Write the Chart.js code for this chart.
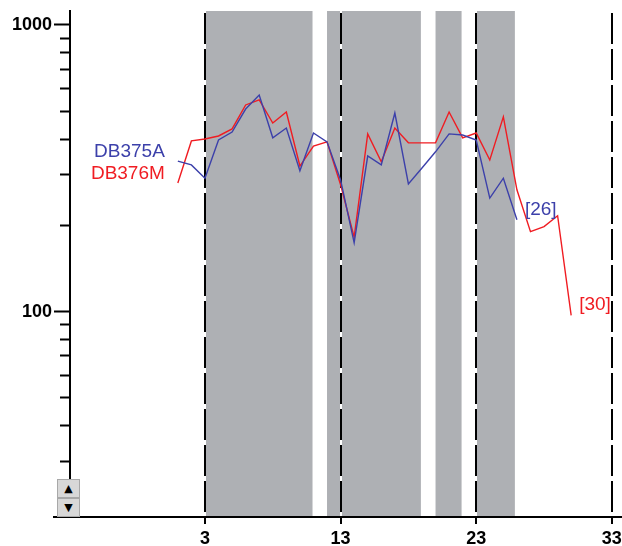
<!DOCTYPE html>
<html>
<head>
<meta charset="utf-8">
<script src="https://cdn.jsdelivr.net/npm/chart.js@4.4.0/dist/chart.umd.min.js"></script>
<style>
html, body { margin: 0; padding: 0; background: #fff; }
#wrap { position: relative; width: 622px; height: 546px; }
.btn {
    position: absolute; left: 57px; width: 23px; height: 19px;
    background: #d8d8d8; border: 1px solid #a8a8a8; box-sizing: border-box;
    font: 11px "DejaVu Sans"; color: #000; text-align: center; line-height: 17px;
}
</style>
</head>
<body>
<div id="wrap">
    <canvas id="grafico" width="622" height="546"></canvas>
    <div class="btn" style="top:479px">▲</div>
    <div class="btn" style="top:498px">▼</div>
</div>
<script>
// Dati
const giorni = [1, 2, 3, 4, 5, 6, 7, 8, 9, 10, 11, 12, 13, 14, 15, 16, 17, 18, 19, 20, 21, 22, 23, 24, 25, 26, 27, 28, 29, 30];
const db375a = [335, 325, 292, 397, 423, 509, 570, 404, 437, 310, 420, 391, 288, 174, 349, 325, 493, 279, 317, 361, 417, 413, 397, 249, 292, 209];
const db376m = [281, 394, 400, 410, 434, 526, 548, 455, 497, 322, 378, 391, 277, 182, 417, 333, 437, 388, 388, 388, 497, 404, 420, 338, 478, 266, 190, 198, 216, 97];

const tickX = [3, 13, 23, 33];
const tickYMaggiori = [100, 1000];
const tickYMinori = [20, 30, 40, 50, 60, 70, 80, 90, 200, 300, 400, 500, 600, 700, 800, 900];

// Bande grigie (inizio / fine sull'asse x)
const bandaInizio = [3, 12, 20, 23];
const bandaFine = [10.93, 18.92, 21.92, 25.85];

const BLU = "#3c40aa";
const ROSSO = "#f01c22";
const fontTick = { family: "Liberation Sans", size: 18, weight: "bold" };

const punti = (serie) => serie.map((v, i) => ({ x: giorni[i], y: v }));

const sfondo = {
    id: "sfondo",
    beforeDraw(chart) {
        const { ctx, chartArea, scales } = chart;
        const x = scales.x;
        ctx.save();
        ctx.fillStyle = "#fff";
        ctx.fillRect(0, 0, chart.width, chart.height);
        ctx.fillStyle = "#aeb0b4";
        bandaInizio.forEach((s, i) => {
            const x1 = x.getPixelForValue(s);
            const x2 = x.getPixelForValue(bandaFine[i]);
            ctx.fillRect(x1, chartArea.top, x2 - x1, chartArea.bottom - chartArea.top);
        });
        // sotto le linee tratteggiate c'e' una linea bianca
        ctx.strokeStyle = "#fff";
        ctx.lineWidth = 2;
        tickX.forEach(v => {
            const px = Math.round(x.getPixelForValue(v));
            ctx.beginPath();
            ctx.moveTo(px, chartArea.top);
            ctx.lineTo(px, chartArea.bottom);
            ctx.stroke();
        });
        ctx.restore();
    },
    afterDatasetsDraw(chart) {
        const { ctx, chartArea } = chart;
        ctx.save();
        // prolunga la linea dell'asse x a sinistra
        ctx.strokeStyle = "#000";
        ctx.lineWidth = 2;
        ctx.beginPath();
        ctx.moveTo(53, Math.round(chartArea.bottom));
        ctx.lineTo(chart.width, Math.round(chartArea.bottom));
        ctx.stroke();

        ctx.font = '19px "Liberation Sans"';
        ctx.textBaseline = "alphabetic";
        chart.data.datasets.forEach((ds, i) => {
            const meta = chart.getDatasetMeta(i);
            const primo = meta.data[0];
            const ultimo = meta.data[meta.data.length - 1];
            ctx.fillStyle = ds.borderColor;
            ctx.textAlign = "right";
            ctx.fillText(ds.label, primo.x - 13, primo.y - 4);
            ctx.textAlign = "left";
            ctx.fillText("[" + giorni[meta.data.length - 1] + "]", ultimo.x + 8, ultimo.y - 5);
        });
        ctx.restore();
    }
};

new Chart(document.getElementById("grafico"), {
    type: "line",
    data: {
        datasets: [
            { label: "DB375A", data: punti(db375a), borderColor: BLU, borderWidth: 1.4, pointRadius: 0, tension: 0, yAxisID: "y" },
            { label: "DB376M", data: punti(db376m), borderColor: ROSSO, borderWidth: 1.4, pointRadius: 0, tension: 0, yAxisID: "y" }
        ]
    },
    options: {
        responsive: false,
        animation: false,
        devicePixelRatio: 1,
        layout: { padding: { top: 11, right: 2, left: 0, bottom: 0 } },
        plugins: { legend: { display: false }, tooltip: { enabled: false } },
        scales: {
            x: {
                type: "linear",
                min: -6.95,
                max: 33.6,
                afterBuildTicks: s => { s.ticks = tickX.map(v => ({ value: v })); },
                afterFit: s => { s.height = 29; s.paddingLeft = 0; s.paddingRight = 0; },
                ticks: { autoSkip: false, maxRotation: 0, color: "#000", font: fontTick, padding: 4, callback: v => String(v) },
                grid: { color: "#000", lineWidth: 2, tickLength: 7, tickColor: "#000", tickWidth: 2 },
                border: { display: true, color: "#000", width: 2, dash: [31, 5], dashOffset: -2 }
            },
            y: {
                type: "logarithmic",
                position: "left",
                weight: 1,
                min: 19.2,
                max: 1119,
                afterBuildTicks: s => { s.ticks = tickYMaggiori.map(v => ({ value: v })); },
                afterFit: s => { s.width = 70; s.paddingTop = 0; s.paddingBottom = 0; },
                ticks: { autoSkip: false, color: "#000", font: fontTick, padding: 2, callback: v => String(v) },
                grid: { drawOnChartArea: false, tickLength: 16, tickColor: "#000", tickWidth: 2 },
                border: { display: true, color: "#000", width: 2 }
            },
            y2: {
                type: "logarithmic",
                position: "left",
                weight: 0,
                min: 19.2,
                max: 1119,
                afterBuildTicks: s => { s.ticks = tickYMinori.map(v => ({ value: v })); },
                afterFit: s => { s.width = 0; s.paddingTop = 0; s.paddingBottom = 0; },
                ticks: { autoSkip: false, callback: () => "" },
                grid: { drawOnChartArea: false, tickLength: 10, tickColor: "#000", tickWidth: 2 },
                border: { display: false }
            }
        }
    },
    plugins: [sfondo]
});
</script>
</body>
</html>
